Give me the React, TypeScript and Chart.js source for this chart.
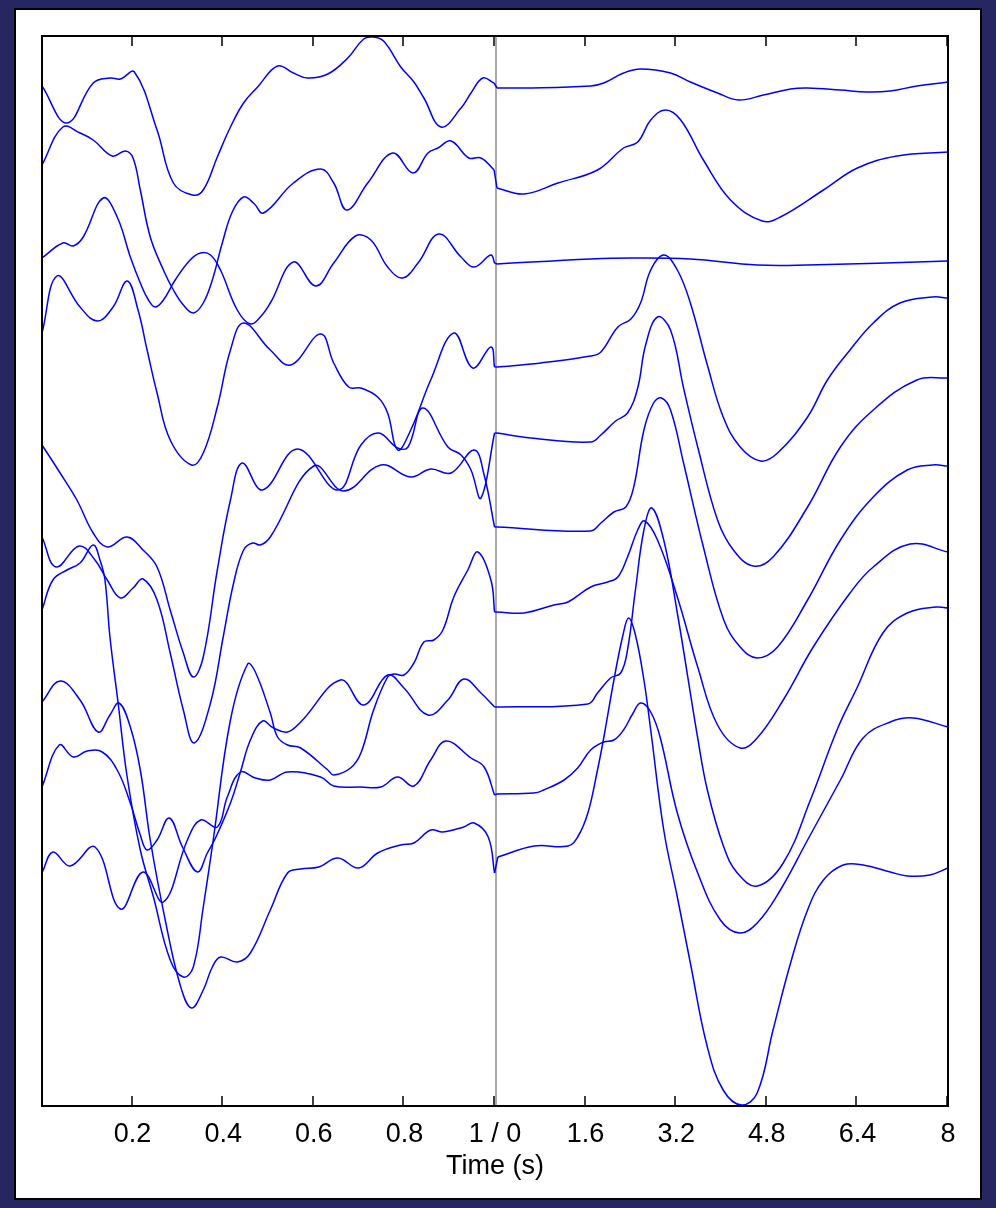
import React, { useEffect, useRef } from "react";
import { Chart, registerables } from "chart.js";

Chart.register(...registerables);

// Axis: left half is 0..1 s, right half is 0..8 s
const leftSpan = 1;
const rightSpan = 8;
const tickLabels = ["", "0.2", "0.4", "0.6", "0.8", "1 / 0", "1.6", "3.2", "4.8", "6.4", "8"];
const axisTitle = "Time (s)";

// [time (s), offset amplitude]
const trace1Left = [[0,5.0],[0.055,8.7],[0.113,4.7],[0.150,4.2],[0.173,4.3],[0.204,3.6],[0.254,9.4],[0.290,14.7],[0.332,15.9],[0.356,15.4],[0.387,12.1],[0.416,9.1],[0.445,6.7],[0.476,5.1],[0.520,3.0],[0.555,3.7],[0.586,4.2],[0.631,3.8],[0.675,2.2],[0.710,0.3],[0.730,0.1],[0.754,0.5],[0.792,3.1],[0.821,4.6],[0.843,6.2],[0.881,9.1],[0.925,7.2],[0.947,5.7],[0.973,4.2],[0.998,4.7]];
const trace1Right = [[0.035,5.2],[0.51,5.2],[1.69,5.0],[1.92,4.7],[2.27,3.7],[2.57,3.3],[3.10,3.7],[3.45,4.6],[3.93,5.7],[4.30,6.4],[4.74,5.9],[5.22,5.3],[5.52,5.2],[6.10,5.4],[6.57,5.6],[6.98,5.5],[7.45,5.0],[8.0,4.6]];

const trace2Left = [[0,12.9],[0.046,9.1],[0.084,9.7],[0.113,10.4],[0.155,12.0],[0.184,11.5],[0.201,12.2],[0.217,15.4],[0.239,20.1],[0.268,23.4],[0.290,25.4],[0.312,26.9],[0.334,27.7],[0.356,26.7],[0.376,24.4],[0.398,20.7],[0.420,17.6],[0.445,16.1],[0.467,16.7],[0.489,17.7],[0.555,14.7],[0.615,13.3],[0.644,14.7],[0.673,17.4],[0.719,14.7],[0.774,11.7],[0.819,13.7],[0.852,11.7],[0.874,11.2],[0.903,10.5],[0.942,12.2],[0.969,12.2],[0.998,13.4]];
const trace2Right = [[0.035,15.2],[0.51,15.8],[1.11,14.7],[1.81,13.4],[2.27,11.2],[2.52,10.6],[2.75,8.4],[3.01,7.4],[3.28,8.4],[3.68,12.4],[4.16,16.4],[4.72,18.5],[5.04,18.1],[5.80,15.4],[6.40,13.2],[7.10,12.0],[8.0,11.6]];

const trace3Left = [[0,22.2],[0.046,20.7],[0.069,21.0],[0.091,20.1],[0.135,16.2],[0.166,18.1],[0.195,22.1],[0.217,24.7],[0.235,26.4],[0.250,27.1],[0.268,26.4],[0.294,24.4],[0.327,22.4],[0.350,21.7],[0.372,21.9],[0.394,23.4],[0.431,27.4],[0.460,28.8],[0.482,28.1],[0.504,26.7],[0.555,22.6],[0.604,25.0],[0.644,22.7],[0.692,20.0],[0.726,20.4],[0.763,23.1],[0.796,24.2],[0.830,22.7],[0.876,19.8],[0.925,22.1],[0.954,23.1],[0.991,21.9],[0.999,22.7]];
const trace3Right = [[0.035,22.8],[1.69,22.3],[2.40,22.2],[3.45,22.3],[4.63,22.9],[5.52,22.9],[8.0,22.5]];

const trace4Left = [[0,29.7],[0.033,24.0],[0.084,27.1],[0.122,28.5],[0.157,27.1],[0.188,24.5],[0.212,27.4],[0.232,31.4],[0.254,35.7],[0.283,40.4],[0.330,42.9],[0.356,41.7],[0.387,37.1],[0.416,31.4],[0.445,28.7],[0.504,31.4],[0.549,32.9],[0.615,29.8],[0.644,32.7],[0.677,35.1],[0.704,35.2],[0.741,36.1],[0.763,37.7],[0.785,41.4],[0.814,39.4],[0.858,34.4],[0.909,29.7],[0.951,33.2],[0.991,31.1],[0.999,33.1]];
const trace4Right = [[0.035,33.1],[0.81,32.7],[1.69,32.0],[1.87,31.6],[2.17,29.1],[2.40,28.3],[2.57,26.7],[2.75,23.4],[2.98,21.9],[3.22,23.4],[3.45,26.7],[3.75,32.9],[4.03,38.1],[4.33,41.1],[4.69,42.5],[4.99,41.7],[5.52,38.1],[5.87,34.4],[6.27,31.4],[6.68,28.7],[7.15,26.7],[7.73,26.1],[8.0,26.2]];

const trace5Left = [[0,40.9],[0.040,43.7],[0.077,46.4],[0.113,49.7],[0.144,51.1],[0.188,50.1],[0.223,51.4],[0.254,53.1],[0.283,57.4],[0.312,61.7],[0.334,64.1],[0.356,62.1],[0.387,53.4],[0.416,46.4],[0.442,42.7],[0.487,45.4],[0.564,41.3],[0.653,45.4],[0.704,40.9],[0.743,39.7],[0.785,41.2],[0.808,41.1],[0.841,37.2],[0.896,41.1],[0.925,41.9],[0.947,43.4],[0.969,46.2],[0.999,39.7]];
const trace5Right = [[0.035,39.7],[0.63,40.2],[1.69,40.6],[1.87,39.9],[2.13,38.5],[2.34,37.7],[2.52,35.2],[2.66,30.9],[2.87,28.1],[3.10,29.4],[3.33,35.2],[3.58,41.1],[3.93,48.4],[4.21,51.4],[4.56,53.0],[4.91,52.1],[5.52,47.1],[6.10,41.1],[6.68,37.4],[7.45,34.4],[8.0,34.2]];

const trace6Left = [[0,50.1],[0.031,53.1],[0.082,51.0],[0.117,52.4],[0.144,54.4],[0.173,56.2],[0.201,55.2],[0.223,54.3],[0.254,56.4],[0.283,61.7],[0.312,67.4],[0.336,70.7],[0.372,66.7],[0.400,60.1],[0.423,54.7],[0.445,51.4],[0.465,50.7],[0.482,50.9],[0.504,50.1],[0.600,43.0],[0.666,45.5],[0.748,42.9],[0.814,44.1],[0.858,43.3],[0.903,43.7],[0.954,41.4],[0.976,43.9],[0.999,49.1]];
const trace6Right = [[0.035,49.1],[1.69,49.5],[1.87,48.7],[2.10,47.6],[2.31,47.1],[2.45,45.1],[2.63,39.4],[2.80,36.7],[2.94,36.2],[3.10,37.4],[3.33,42.7],[3.68,51.1],[4.04,58.4],[4.33,61.1],[4.63,62.2],[4.99,61.1],[5.52,56.4],[6.10,50.4],[6.68,46.1],[7.28,43.4],[7.73,42.9],[8.0,43.0]];

const trace7Left = [[0,57.4],[0.024,54.4],[0.055,53.4],[0.084,52.7],[0.113,50.9],[0.128,52.4],[0.139,54.4],[0.150,60.1],[0.168,66.7],[0.188,74.1],[0.217,81.4],[0.246,86.1],[0.283,92.4],[0.312,94.1],[0.334,93.1],[0.356,87.1],[0.378,80.4],[0.416,68.4],[0.454,62.8],[0.471,63.6],[0.504,67.7],[0.520,70.1],[0.542,70.9],[0.571,71.2],[0.631,73.4],[0.644,73.9],[0.681,73.2],[0.704,71.7],[0.732,67.4],[0.763,64.1],[0.777,63.8],[0.799,63.9],[0.821,62.7],[0.843,60.6],[0.865,60.4],[0.885,59.4],[0.909,56.1],[0.940,53.4],[0.962,51.6],[0.991,54.4],[0.999,57.6]];
const trace7Right = [[0.035,57.6],[0.51,57.7],[1.04,56.9],[1.29,56.6],[1.69,55.1],[1.99,54.6],[2.17,54.1],[2.34,52.1],[2.52,49.4],[2.64,48.5],[2.87,50.4],[3.22,56.1],[3.58,63.1],[3.93,68.9],[4.33,71.2],[4.63,70.2],[5.09,66.4],[5.62,61.1],[6.27,55.7],[6.68,53.1],[7.33,50.8],[8.0,51.6]];

const trace8Left = [[0,75.1],[0.038,70.9],[0.069,72.1],[0.100,71.5],[0.133,71.6],[0.166,73.4],[0.195,76.7],[0.217,79.9],[0.232,81.4],[0.254,80.4],[0.281,78.2],[0.310,81.1],[0.343,83.6],[0.365,81.7],[0.383,80.2],[0.416,76.7],[0.438,73.6],[0.460,70.4],[0.487,68.5],[0.511,69.2],[0.542,69.6],[0.571,68.6],[0.659,64.4],[0.710,66.9],[0.763,63.9],[0.799,65.2],[0.852,67.9],[0.896,66.4],[0.931,64.3],[0.969,65.7],[0.999,67.1]];
const trace8Right = [[0.035,67.1],[1.64,66.8],[1.81,65.7],[2.04,64.2],[2.22,63.7],[2.34,61.4],[2.48,55.4],[2.63,49.4],[2.77,47.2],[2.98,50.4],[3.22,57.7],[3.58,70.2],[3.75,75.4],[4.04,81.1],[4.28,83.7],[4.63,85.0],[5.09,82.7],[5.57,76.4],[6.04,69.4],[6.40,65.1],[6.85,59.7],[7.28,57.7],[7.80,57.1],[8.0,57.2]];

const trace9Left = [[0,83.7],[0.024,81.6],[0.062,83.0],[0.117,81.1],[0.173,87.3],[0.223,83.6],[0.268,86.6],[0.321,80.4],[0.350,78.4],[0.387,79.1],[0.409,76.1],[0.438,73.6],[0.471,74.2],[0.504,74.4],[0.542,73.6],[0.615,74.1],[0.644,75.0],[0.704,75.1],[0.748,75.1],[0.785,74.1],[0.821,75.0],[0.858,72.4],[0.892,70.5],[0.947,72.2],[0.976,73.1],[0.999,75.9]];
const trace9Right = [[0.035,75.8],[0.69,75.7],[0.86,75.4],[1.22,74.4],[1.46,73.2],[1.69,71.4],[1.92,70.6],[2.10,70.4],[2.27,69.4],[2.43,67.8],[2.57,66.7],[2.75,67.6],[2.92,70.2],[3.22,77.7],[3.58,83.7],[3.98,88.4],[4.32,89.7],[4.63,88.7],[5.04,85.4],[5.52,80.4],[6.10,74.4],[6.50,70.2],[6.98,68.6],[7.38,68.2],[8.0,69.1]];

const trace10Left = [[0,66.6],[0.040,64.5],[0.084,66.4],[0.124,69.6],[0.150,67.9],[0.170,66.7],[0.195,69.1],[0.217,73.4],[0.239,80.4],[0.272,88.4],[0.305,94.9],[0.330,97.2],[0.356,95.4],[0.376,93.1],[0.394,92.1],[0.431,92.6],[0.460,91.7],[0.504,87.4],[0.542,83.7],[0.571,83.3],[0.611,83.1],[0.653,82.2],[0.699,83.2],[0.741,81.7],[0.792,80.9],[0.821,80.7],[0.858,79.4],[0.885,79.6],[0.931,79.1],[0.954,78.7],[0.985,80.1],[0.999,83.7]];
const trace10Right = [[0.05,82.1],[0.69,81.0],[1.29,81.0],[1.46,80.1],[1.64,77.7],[1.81,73.4],[1.92,70.2],[2.10,64.4],[2.26,59.9],[2.36,58.2],[2.48,59.9],[2.63,64.4],[2.75,69.4],[2.98,79.4],[3.22,86.1],[3.45,92.7],[3.75,101.1],[4.03,105.4],[4.35,106.9],[4.63,105.7],[4.91,99.4],[5.22,92.7],[5.52,87.4],[5.80,84.4],[6.15,82.9],[6.50,82.9],[6.98,83.6],[7.28,84.0],[7.68,83.9],[8.0,83.2]];

const traces = [
  [trace1Left, trace1Right],
  [trace2Left, trace2Right],
  [trace3Left, trace3Right],
  [trace4Left, trace4Right],
  [trace5Left, trace5Right],
  [trace6Left, trace6Right],
  [trace7Left, trace7Right],
  [trace8Left, trace8Right],
  [trace9Left, trace9Right],
  [trace10Left, trace10Right],
];

const FONT = "'Liberation Sans', Arial, Helvetica, sans-serif";
const LINE = "#0000ff";

const framePlugin = {
  id: "frame",
  beforeDatasetsDraw(chart: any) {
    const { ctx, chartArea, scales } = chart;
    const xd = scales.x.getPixelForValue(leftSpan) + 1;
    ctx.save();
    ctx.strokeStyle = "#8f8f8f";
    ctx.lineWidth = 1.5;
    ctx.beginPath();
    ctx.moveTo(xd, chartArea.top);
    ctx.lineTo(xd, chartArea.bottom);
    ctx.stroke();
    ctx.restore();
  },
  afterDatasetsDraw(chart: any) {
    const { ctx, chartArea, scales } = chart;
    const { left, right, top, bottom } = chartArea;
    ctx.save();
    ctx.strokeStyle = "#000";
    ctx.lineWidth = 1.5;
    for (let i = 1; i < tickLabels.length; i++) {
      const px = Math.round(scales.x.getPixelForValue(i * 0.2)) - 1;
      ctx.beginPath();
      ctx.moveTo(px, top);
      ctx.lineTo(px, top + 10);
      ctx.moveTo(px, bottom);
      ctx.lineTo(px, bottom - 10);
      ctx.stroke();
    }
    ctx.lineWidth = 2;
    ctx.strokeRect(left, top, right - left, bottom - top);
    ctx.restore();
  },
};

const lineStyle = {
  borderColor: LINE,
  borderWidth: 1.5,
  pointRadius: 0,
  fill: false,
};

export default function App() {
  const ref = useRef<HTMLCanvasElement | null>(null);

  useEffect(() => {
    if (!ref.current) return;
    const datasets: any[] = [];
    traces.forEach(([lft, rgt]) => {
      const leftPts = lft.map(([t, v]) => ({ x: t / leftSpan, y: v }));
      const rightPts = rgt.map(([s, v]) => ({ x: 1 + s / rightSpan, y: v }));
      datasets.push({ ...lineStyle, data: leftPts, tension: 0.4 });
      datasets.push({ ...lineStyle, data: rightPts, tension: 0.4 });
      datasets.push({ ...lineStyle, data: [leftPts[leftPts.length - 1], rightPts[0]], tension: 0 });
    });
    const chart = new Chart(ref.current, {
      type: "line",
      data: { datasets },
      plugins: [framePlugin],
      options: {
        animation: false,
        responsive: false,
        devicePixelRatio: 1,
        layout: { padding: { left: 42, right: 48, top: 36, bottom: 0 } },
        plugins: { legend: { display: false }, tooltip: { enabled: false } },
        scales: {
          x: {
            type: "linear",
            min: 0,
            max: 2,
            grid: { display: false, drawTicks: false },
            border: { display: false },
            ticks: {
              stepSize: 0.2,
              autoSkip: false,
              maxRotation: 0,
              padding: 12,
              color: "#000",
              font: { family: FONT, size: 27 },
              callback: (value: any) => tickLabels[Math.round(Number(value) / 0.2)] ?? "",
            },
            title: {
              display: true,
              text: axisTitle,
              color: "#000",
              font: { family: FONT, size: 27 },
              padding: { top: 0, bottom: 25 },
            },
            afterFit: (scale: any) => {
              scale.height = 102;
            },
          },
          y: {
            type: "linear",
            min: 0,
            max: 107,
            reverse: true,
            display: false,
          },
        },
      },
    });
    return () => chart.destroy();
  }, []);

  return (
    <div style={{ position: "fixed", left: 0, top: 0, width: 996, height: 1208, background: "#262660" }}>
      <div
        style={{
          position: "absolute",
          left: 14,
          top: 8,
          width: 968,
          height: 1192,
          background: "#fff",
          boxSizing: "border-box",
          border: "2px solid #000",
        }}
      />
      <canvas ref={ref} width={996} height={1208} style={{ position: "absolute", left: 0, top: 0 }} />
    </div>
  );
}
